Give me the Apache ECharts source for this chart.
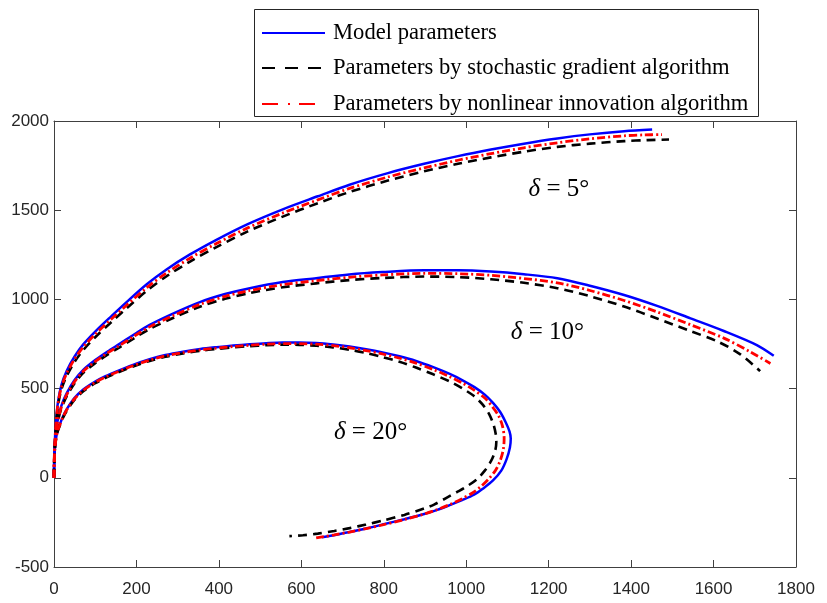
<!DOCTYPE html>
<html>
<head>
<meta charset="utf-8">
<script src="https://cdn.jsdelivr.net/npm/echarts@6/dist/echarts.min.js"></script>
<style>
  html, body { margin: 0; padding: 0; background: #ffffff; }
  #chart { width: 827px; height: 603px; }
</style>
</head>
<body>
<div id="chart"></div>
<script>
// Trajectories for three steering angles: model vs. two identification algorithms
var seriesNames = ['Model parameters', 'Parameters by stochastic gradient algorithm', 'Parameters by nonlinear innovation algorithm'];

// delta = 5 deg
var model5X = [0, 0.5, 2, 5, 10, 18, 31, 50, 71, 100, 140, 176, 225, 273, 330, 394, 470, 555, 640, 717, 810, 898, 980, 1060, 1140, 1221, 1300, 1383, 1451];
var model5Y = [0, 100, 200, 320, 430, 520, 600, 680, 748, 820, 908, 985, 1085, 1168, 1252, 1334, 1422, 1505, 1578, 1643, 1708, 1760, 1803, 1840, 1873, 1902, 1925, 1943, 1952];
var sg5X = [0, 0.5, 2, 5, 10, 18, 31, 50, 71, 100, 140, 176, 225, 273, 330, 394, 470, 555, 640, 717, 810, 898, 980, 1060, 1140, 1221, 1300, 1383, 1440, 1492];
var sg5Y = [0, 95, 190, 303, 408, 495, 572, 650, 716, 788, 875, 950, 1048, 1130, 1212, 1293, 1381, 1464, 1539, 1602, 1666, 1718, 1760, 1796, 1828, 1855, 1873, 1887, 1893, 1896];
var ni5X = [0, 0.5, 2, 5, 10, 18, 31, 50, 71, 100, 140, 176, 225, 273, 330, 394, 470, 555, 640, 717, 810, 898, 980, 1060, 1140, 1221, 1300, 1383, 1430, 1475];
var ni5Y = [0, 98, 195, 312, 420, 508, 587, 666, 733, 805, 892, 967, 1066, 1148, 1231, 1313, 1401, 1484, 1558, 1622, 1686, 1737, 1780, 1817, 1850, 1878, 1900, 1917, 1922, 1924];

// delta = 10 deg
var model10X = [0, 0.5, 2, 5, 10, 18, 31, 50, 71, 100, 130, 160, 196, 232, 290, 354, 415, 475, 555, 636, 716, 797, 898, 980, 1060, 1140, 1221, 1300, 1383, 1463, 1544, 1625, 1705, 1746];
var model10Y = [0, 90, 175, 265, 335, 405, 475, 548, 605, 660, 708, 752, 806, 857, 922, 985, 1030, 1063, 1097, 1119, 1140, 1153, 1163, 1163, 1156, 1141, 1119, 1077, 1025, 964, 894, 823, 744, 684];
var sg10X = [0, 0.5, 2, 5, 10, 18, 31, 50, 71, 100, 130, 160, 196, 232, 290, 354, 415, 475, 555, 636, 716, 797, 898, 980, 1060, 1140, 1221, 1300, 1383, 1463, 1544, 1609, 1665, 1713];
var sg10Y = [0, 86, 168, 255, 322, 390, 458, 530, 588, 643, 690, 733, 785, 834, 897, 959, 1003, 1036, 1068, 1090, 1108, 1120, 1128, 1125, 1113, 1093, 1063, 1018, 960, 893, 822, 765, 692, 598];
var ni10X = [0, 0.5, 2, 5, 10, 18, 31, 50, 71, 100, 130, 160, 196, 232, 290, 354, 415, 475, 555, 636, 716, 797, 898, 980, 1060, 1140, 1221, 1300, 1383, 1463, 1544, 1625, 1690, 1738];
var ni10Y = [0, 88, 172, 260, 328, 397, 466, 539, 597, 652, 700, 743, 796, 846, 910, 972, 1017, 1050, 1083, 1105, 1124, 1137, 1146, 1144, 1135, 1117, 1093, 1050, 994, 930, 858, 783, 705, 641];

// delta = 20 deg
var model20X = [0, 0.5, 2, 5, 9, 15, 22, 31, 50, 71, 100, 125, 152, 190, 232, 270, 313, 355, 394, 435, 475, 515, 555, 595, 636, 677, 717, 757, 797, 838, 878, 920, 960, 990, 1020, 1045, 1065, 1082, 1096, 1105, 1108, 1106, 1098, 1085, 1065, 1040, 1019, 990, 960, 930, 898, 850, 797, 757, 717, 685, 650];
var model20Y = [0, 80, 158, 222, 265, 305, 345, 385, 448, 495, 540, 570, 597, 632, 665, 688, 707, 722, 732, 741, 748, 754, 758, 758, 755, 747, 736, 721, 703, 681, 655, 620, 582, 548, 508, 466, 420, 370, 310, 260, 220, 170, 105, 40, -15, -62, -95, -125, -153, -180, -203, -232, -262, -284, -304, -319, -333];
var sg20X = [0, 0.5, 2, 5, 9, 15, 22, 31, 50, 71, 100, 125, 152, 190, 232, 270, 313, 355, 394, 435, 475, 515, 555, 595, 636, 677, 717, 757, 797, 838, 878, 920, 960, 990, 1019, 1040, 1055, 1066, 1072, 1073, 1070, 1060, 1045, 1025, 1000, 979, 950, 922, 898, 850, 797, 757, 717, 680, 640, 604, 571];
var sg20Y = [0, 78, 155, 218, 260, 298, 337, 376, 438, 485, 530, 560, 587, 622, 655, 678, 697, 712, 722, 731, 738, 743, 746, 745, 740, 731, 718, 700, 677, 650, 618, 580, 540, 502, 458, 410, 360, 300, 240, 200, 150, 93, 40, -10, -50, -78, -115, -150, -172, -208, -240, -262, -282, -298, -313, -322, -327];
var ni20X = [0, 0.5, 2, 5, 9, 15, 22, 31, 50, 71, 100, 125, 152, 190, 232, 270, 313, 355, 394, 435, 475, 515, 555, 595, 636, 677, 717, 757, 797, 838, 878, 920, 960, 990, 1020, 1045, 1063, 1078, 1088, 1092, 1090, 1083, 1072, 1055, 1035, 1015, 990, 960, 930, 898, 850, 797, 757, 717, 680, 636];
var ni20Y = [0, 79, 157, 220, 263, 302, 341, 381, 443, 490, 535, 565, 592, 627, 660, 683, 702, 717, 727, 736, 743, 749, 752, 752, 749, 741, 729, 713, 694, 671, 643, 607, 567, 532, 490, 447, 400, 350, 290, 220, 160, 100, 45, -5, -50, -85, -117, -150, -178, -203, -234, -264, -285, -304, -320, -337];

// Axis ticks
var xTicks = [0, 200, 400, 600, 800, 1000, 1200, 1400, 1600, 1800];
var yTicks = [-500, 0, 500, 1000, 1500, 2000];

// Curve annotations: angle text and anchor in data units
var annoText = ['5°', '10°', '20°'];
var annoX = [1225, 1197, 768];
var annoY = [1615, 817, 256];

function pairs(xs, ys) {
  return xs.map(function (x, i) { return [x, ys[i]]; });
}

var styles = [
  { color: '#0000ff', width: 2.5, type: 'solid', legendDash: null, legendWidth: 2 },
  { color: '#000000', width: 2.6, type: [9, 6], legendDash: [13, 10], legendWidth: 2 },
  { color: '#ff0000', width: 2.8, type: [8, 3, 2, 3], legendDash: [16, 10, 2, 9], legendWidth: 2 }
];

var groups = [
  [model5X, model5Y, sg5X, sg5Y, ni5X, ni5Y],
  [model10X, model10Y, sg10X, sg10Y, ni10X, ni10Y],
  [model20X, model20Y, sg20X, sg20Y, ni20X, ni20Y]
];

var series = [];
groups.forEach(function (g) {
  for (var k = 0; k < 3; k++) {
    series.push({
      name: seriesNames[k],
      type: 'line',
      data: pairs(g[2 * k], g[2 * k + 1]),
      showSymbol: false,
      symbol: 'none',
      smooth: 0.3,
      lineStyle: { color: styles[k].color, width: styles[k].width, type: styles[k].type },
      itemStyle: { color: styles[k].color },
      z: 2 + k,
      silent: true,
      animation: false
    });
  }
});

var axisColor = '#404040';
var labelFont = { fontFamily: 'Liberation Sans', fontSize: 17, color: '#262626' };

function axisCommon(extra) {
  return Object.assign({
    axisLine: { show: true, onZero: false, lineStyle: { color: axisColor, width: 1 } },
    axisTick: { show: true, inside: true, length: 7, lineStyle: { color: axisColor } },
    splitLine: { show: false }
  }, extra);
}

var chart = echarts.init(document.getElementById('chart'), null, { renderer: 'canvas' });
chart.setOption({
  backgroundColor: '#ffffff',
  animation: false,
  grid: { left: 54, right: 31, top: 121, bottom: 36, show: false },
  xAxis: [
    axisCommon({ type: 'value', min: 0, max: 1800, interval: 200,
      axisLabel: Object.assign({ margin: 14, formatter: function (v) { return xTicks.indexOf(v) >= 0 ? String(v) : ''; } }, labelFont) }),
    axisCommon({ type: 'value', position: 'top', min: 0, max: 1800, interval: 200, axisLabel: { show: false } })
  ],
  yAxis: [
    axisCommon({ type: 'value', min: -500, max: 2000, interval: 500,
      axisLabel: Object.assign({ margin: 5, formatter: function (v) { return yTicks.indexOf(v) >= 0 ? String(v) : ''; } }, labelFont) }),
    axisCommon({ type: 'value', position: 'right', min: -500, max: 2000, interval: 500, axisLabel: { show: false } })
  ],
  series: series
});

// Legend box drawn as graphics so the line samples keep their dash patterns
var legendLeft = 254.5, legendTop = 9.5, legendW = 504, legendH = 107;
var rowY = [33, 68, 104];
var legendEls = [{
  type: 'rect', z: 20,
  shape: { x: legendLeft, y: legendTop, width: legendW, height: legendH },
  style: { fill: '#ffffff', stroke: '#262626', lineWidth: 1 }
}];
seriesNames.forEach(function (name, k) {
  legendEls.push({
    type: 'line', z: 21,
    shape: { x1: 262, y1: rowY[k], x2: 325, y2: rowY[k] },
    style: { stroke: styles[k].color, lineWidth: styles[k].legendWidth, lineDash: styles[k].legendDash }
  });
  legendEls.push({
    type: 'text', z: 21, x: 333, y: rowY[k],
    style: { text: name, fontFamily: 'Liberation Serif', fontSize: 22.6, fill: '#000000', verticalAlign: 'middle', align: 'left' }
  });
});

// Delta labels placed at their data anchors
var annoEls = annoText.map(function (t, i) {
  var p = chart.convertToPixel({ xAxisIndex: 0, yAxisIndex: 0 }, [annoX[i], annoY[i]]);
  return {
    type: 'text', x: p[0], y: p[1], z: 10,
    style: {
      text: '{d|δ}{n| = ' + t + '}',
      align: 'center',
      verticalAlign: 'middle',
      rich: {
        d: { fontFamily: 'Liberation Serif', fontStyle: 'italic', fontSize: 25, fill: '#000000' },
        n: { fontFamily: 'Liberation Serif', fontSize: 25, fill: '#000000' }
      }
    }
  };
});
chart.setOption({ graphic: legendEls.concat(annoEls) });
</script>
</body>
</html>
